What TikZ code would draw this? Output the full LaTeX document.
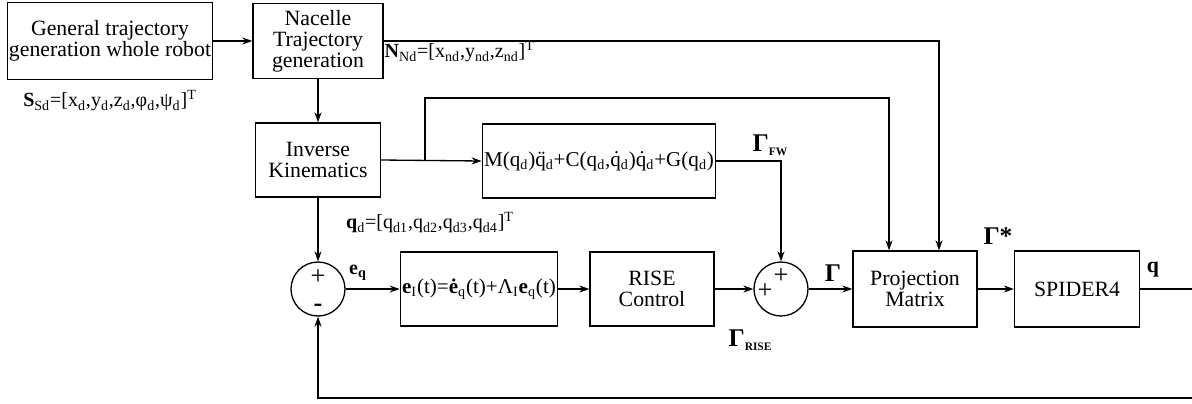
\documentclass[tikz,border=0pt]{standalone}
\usepackage{fontspec}
\setmainfont{Liberation Serif}
\usetikzlibrary{arrows.meta,calc}

\newcommand{\dsub}[1]{\textsubscript{#1}}
\newcommand{\dsup}[1]{\textsuperscript{#1}}
\newcommand{\gsub}[1]{\raisebox{-0.35ex}{\fontsize{6.5}{6.5}\selectfont\bfseries #1}}

\begin{document}
\begin{tikzpicture}[
    x=0.02cm, y=-0.02cm,
    font=\fontsize{12.4}{12}\selectfont,
    >={Stealth[length=2mm,width=1.4mm]},
    line width=0.75pt,
    block/.style={draw, align=center, inner sep=1pt},
    sumnode/.style={draw, circle, minimum size=1.08cm, inner sep=0pt},
    lbl/.style={inner sep=0pt, font=\fontsize{11.4}{11.4}\selectfont},
    sign/.style={inner sep=0pt, font=\fontsize{15}{15}\selectfont},
    biglbl/.style={inner sep=0pt, font=\fontsize{14.5}{14.5}\selectfont\bfseries}
]
\useasboundingbox (0,0) rectangle (1192,403);

% Trajectory generation and kinematics
\node [block, minimum width=4.1cm, minimum height=1.54cm] (gen) at (110,41) {General trajectory\\generation whole robot};
\node [block, minimum width=2.6cm, minimum height=1.5cm] (nac) at (318,41) {Nacelle\\Trajectory\\generation};
\node [block, minimum width=2.5cm, minimum height=1.48cm] (ik) at (318,160) {Inverse\\Kinematics};
\node [block, minimum width=4.64cm, minimum height=1.48cm, font=\fontsize{12}{12}\selectfont] (dyn) at (599,161) {M(q\dsub{d})\"q\dsub{d}+C(q\dsub{d},\.q\dsub{d})\.q\dsub{d}+G(q\dsub{d})};

% Control loop
\node [sumnode] (sum1) at (318,289) {};
\node [block, minimum width=2.84cm, minimum height=1.48cm, font=\fontsize{12}{12}\selectfont] (err) at (479,289) {\textbf{e}\dsub{I}(t)=\textbf{\.e}\dsub{q}(t)+Λ\dsub{I}\textbf{e}\dsub{q}(t)};
\node [block, minimum width=2.48cm, minimum height=1.48cm] (rise) at (652,289) {RISE\\Control};
\node [sumnode] (sum2) at (781,289) {};
\node [block, minimum width=2.48cm, minimum height=1.52cm] (proj) at (915,289) {Projection\\Matrix};
\node [block, minimum width=2.5cm, minimum height=1.52cm] (spider) at (1077,289) {SPIDER4};

% Signs in the summing junctions
\node [sign] (p1) at (318,277) {+};
\node [sign, font=\fontsize{15}{15}\selectfont\bfseries] (m1) at (318,308) {-};
\node [sign] (p2) at (781,276) {+};
\node [sign] (p3) at (765,291) {+};

% Free ends and corners
\coordinate (br) at (425,160);
\coordinate (top1) at (425,98);
\coordinate (pin1) at ([xshift=-0.52cm]proj.north);
\coordinate (pin2) at ([xshift=0.48cm]proj.north);
\coordinate (out) at (1192,289);
\coordinate (fb) at (1192,398);

% Connectors
\draw [->] (gen.east) -- (gen.east -| nac.west);
\draw [->] (nac.south) -- (ik.north);
\draw [->] (nac.east) -| (pin2);
\draw [->] (ik.east) -- (dyn.west);
\draw [->] (br) -- (top1) -| (pin1);
\draw [->] (dyn.east) -| (sum2.north);
\draw [->] (ik.south) -- (sum1.north);
\draw [->] (sum1.east) -- (err.west);
\draw [->] (err.east) -- (rise.west);
\draw [->] (rise.east) -- (sum2.west);
\draw [->] (sum2.east) -- (proj.west);
\draw [->] (proj.east) -- (spider.west);
\draw (spider.east) -- (out);
\draw [->] (fb) -| (sum1.south);

% Signal labels
\node [lbl] (ssd) at (110,101) {\textbf{S}\dsub{Sd}=[x\dsub{d},y\dsub{d},z\dsub{d},φ\dsub{d},ψ\dsub{d}]\dsup{T}};
\node [lbl, anchor=west] (nnd) at (384,52) {\textbf{N}\dsub{Nd}=[x\dsub{nd},y\dsub{nd},z\dsub{nd}]\dsup{T}};
\node [lbl] (qd) at (430,223) {\textbf{q}\dsub{d}=[q\dsub{d1},q\dsub{d2},q\dsub{d3},q\dsub{d4}]\dsup{T}};
\node [lbl] (eq) at (358,273) {\textbf{e}\dsub{\textbf{q}}};
\node [biglbl] (gfw) at (770,145) {Γ\gsub{FW}};
\node [biglbl] (grise) at (750,340) {Γ\gsub{RISE}};
\node [biglbl] (gam) at (833,273) {Γ};
\node [biglbl] (gstar) at (998,236) {Γ*};
\node [lbl, font=\fontsize{12.4}{12}\selectfont\bfseries] (qout) at (1153,270) {q};

\end{tikzpicture}
\end{document}
